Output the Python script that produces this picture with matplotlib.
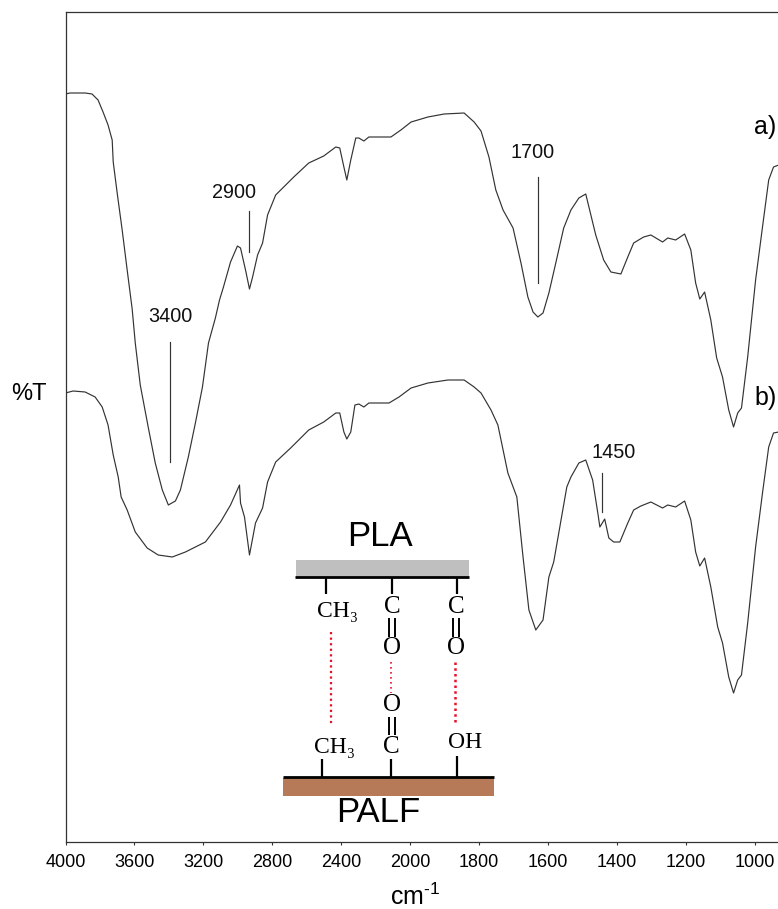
import matplotlib
matplotlib.use("Agg")
import matplotlib.pyplot as plt
import numpy as np

plt.rcParams['font.family'] = ['Liberation Sans', 'DejaVu Sans']
plt.rcParams['mathtext.fontset'] = 'custom'
plt.rcParams['mathtext.rm'] = 'Liberation Sans'
plt.rcParams['mathtext.default'] = 'regular'

# Spectrum a)
wn_a = [4000,3974,3886,3846,3811,3782,3753,3729,3723,3700,3671,3642,3613,3595,3566,3520,3479,3438,3403,3362,3333,3287,3246,3205,3170,3130,3106,3083,3042,3002,2984,2955,2932,2914,2885,2856,2827,2780,2675,2588,2501,2431,2408,2384,2367,2344,2315,2297,2268,2239,2111,2053,1997,1948,1901,1843,1814,1794,1771,1751,1730,1701,1678,1658,1643,1629,1614,1597,1577,1554,1533,1510,1490,1461,1438,1417,1388,1368,1351,1322,1301,1267,1252,1229,1203,1185,1171,1159,1145,1127,1110,1093,1075,1061,1049,1038,1020,997,977,959,945,930]
t_a = [748,749,749,748,742,730,717,702,680,649,612,572,533,499,457,415,379,352,337,341,352,385,419,455,499,524,542,555,580,596,594,572,553,565,587,599,627,647,665,679,686,695,694,675,662,682,704,704,701,705,705,712,720,725,728,729,720,711,685,652,632,614,579,545,530,525,529,549,579,614,632,644,648,607,582,570,568,585,599,605,607,600,604,602,608,592,559,543,550,522,484,465,432,415,429,434,485,562,615,662,675,677]

# Spectrum b)
wn_b = [4000,3956,3886,3828,3787,3753,3723,3694,3677,3642,3595,3526,3462,3380,3304,3188,3100,3042,2990,2984,2961,2932,2897,2856,2827,2780,2693,2588,2501,2431,2408,2384,2367,2344,2320,2297,2268,2239,2122,2064,1997,1948,1890,1843,1814,1794,1765,1745,1716,1690,1672,1655,1635,1614,1597,1583,1545,1533,1510,1490,1470,1455,1449,1435,1423,1409,1391,1368,1351,1330,1301,1267,1252,1229,1203,1185,1171,1159,1145,1127,1107,1093,1075,1061,1049,1038,1020,997,977,959,945,930]
t_b = [449,451,450,445,435,417,387,365,345,332,310,294,287,285,290,300,320,337,357,339,325,287,319,334,360,380,394,412,420,429,429,410,403,410,437,438,435,439,439,445,454,459,462,462,455,449,432,417,369,345,285,232,212,222,265,280,355,365,379,382,362,329,315,323,304,300,300,319,332,336,340,334,337,335,341,322,290,276,284,255,215,199,165,149,162,167,219,295,349,395,409,410]

tick_values = [4000,3600,3200,2800,2400,2000,1800,1600,1400,1200,1000]

# label, label wavenumber, label level, line wavenumber, line start, line end
peak_labels = ['3400','2900','1700','1450']
peak_label_wn = [3392,3019,1643,1408]
peak_label_t = [525,649,689,389]
peak_line_wn = [3392,2932,1629,1443]
peak_line_top = [500,631,665,369]
peak_line_bottom = [380,590,559,330]


def fwd(w):
    w = np.asarray(w, dtype=float)
    return np.where(w >= 2000, (4000 - w) / 2000, 1 + (2000 - w) / 1000)


def inv(p):
    p = np.asarray(p, dtype=float)
    return np.where(p <= 1, 4000 - p * 2000, 2000 - (p - 1) * 1000)


W, H = 778, 909
fig = plt.figure(figsize=(W / 100, H / 100), dpi=100, facecolor='white')
ax = fig.add_axes([65.5 / W, (H - 842) / H, (W - 65.5) / W, 830 / H])
ax.set_xscale('function', functions=(fwd, inv))
ax.set_ylim(0, 830)

curve = '#333333'
ax.plot(wn_a, t_a, color=curve, lw=0.85)
ax.plot(wn_b, t_b, color=curve, lw=0.85)

ax.set_xticks(tick_values)
ax.set_xticklabels([str(v) for v in tick_values], fontsize=13)
ax.minorticks_off()
ax.set_yticks([])
ax.tick_params(axis='x', length=2.5, width=0.8, color='#333333', pad=6)
ax.spines['right'].set_visible(False)
for s in ('top', 'left', 'bottom'):
    ax.spines[s].set_color('#333333')
    ax.spines[s].set_linewidth(0.9)

ax.set_xlabel('cm$^{\\mathregular{\u2010}1}$', fontsize=18)
ax.xaxis.set_label_coords((415 - 65.5) / (W - 65.5), -55 / 830, transform=ax.transAxes)
ax.xaxis.label.set_va('center')
ax.set_ylabel('%T', fontsize=17, rotation=0, ha='center', va='center')
ax.yaxis.set_label_coords((28.5 - 65.5) / (W - 65.5), (842 - 394) / 830)

for s, xw, yt, lw_, top, bot in zip(peak_labels, peak_label_wn, peak_label_t,
                                    peak_line_wn, peak_line_top, peak_line_bottom):
    ax.text(xw, yt, s, fontsize=14.3, ha='center', va='center', color='#111111')
    ax.plot([lw_, lw_], [top, bot], color='#333333', lw=0.85)

ax.text((776 - 65.5) / (W - 65.5), (842 - 127) / 830, 'a)', transform=ax.transAxes, fontsize=18,
        ha='right', va='center', clip_on=False)
ax.text((777 - 65.5) / (W - 65.5), (842 - 398) / 830, 'b)', transform=ax.transAxes, fontsize=18,
        ha='right', va='center', clip_on=False)

# The axis must run from high (left) to low (right) wavenumber whatever the
# scale does with the limits, so check the result and flip it if needed.
ax.set_autoscalex_on(False)
ax.set_xlim(4000, 932)
if ax.transData.transform([(4000, 0)])[0][0] > ax.transData.transform([(1000, 0)])[0][0]:
    ax.invert_xaxis()

# Schematic drawn in a pixel-space overlay
ov = fig.add_axes([0, 0, 1, 1], facecolor='none')
ov.set_xlim(0, W)
ov.set_ylim(H, 0)
ov.axis('off')

ov.add_patch(plt.Rectangle((296, 560), 173, 17, color='#BFBFBF', lw=0))
ov.add_patch(plt.Rectangle((283, 778), 211, 17.5, color='#B67A58', lw=0))
ov.plot([295, 469], [577, 577], color='black', lw=2, solid_capstyle='butt')
ov.plot([283, 494], [777, 777], color='black', lw=2, solid_capstyle='butt')

for x, y0, y1 in [(326, 577, 594), (392, 577, 594), (457, 577, 594),
                  (322, 759, 777), (391, 759, 777), (457, 756, 777)]:
    ov.plot([x, x], [y0, y1], color='black', lw=1.6, solid_capstyle='butt')

for x, y0, y1 in [(392, 618, 637), (456, 618, 637), (392, 717, 735)]:
    for dx in (-3, 3):
        ov.plot([x + dx, x + dx], [y0, y1], color='black', lw=1.4, solid_capstyle='butt')

red = '#E8102A'
ov.plot([331, 331], [632, 725], color=red, lw=1.6, ls=(0, (1, 1.5)))
ov.plot([391, 391], [662, 693], color=red, lw=1.2, ls=(0, (1, 2)))
ov.plot([455, 455], [662, 725], color=red, lw=1.8, ls=(0, (1, 1.3)))

serif = ['Liberation Serif', 'DejaVu Serif']
for s, x, y in [('C', 392, 607), ('O', 392, 648), ('C', 456, 607), ('O', 456, 648),
                ('O', 392, 705), ('C', 391, 747)]:
    ov.text(x, y, s, family=serif, fontsize=18, ha='center', va='center')
ov.text(338, 612, 'CH\u2083', family=serif, fontsize=17, ha='center', va='center')
ov.text(335, 747, 'CH\u2083', family=serif, fontsize=17, ha='center', va='center')
ov.text(465, 743, 'OH', family=serif, fontsize=17, ha='center', va='center')

ov.text(380, 536, 'PLA', fontsize=25, ha='center', va='center')
ov.text(378, 812, 'PALF', fontsize=25, ha='center', va='center')

fig.savefig('out.png', dpi=100)
